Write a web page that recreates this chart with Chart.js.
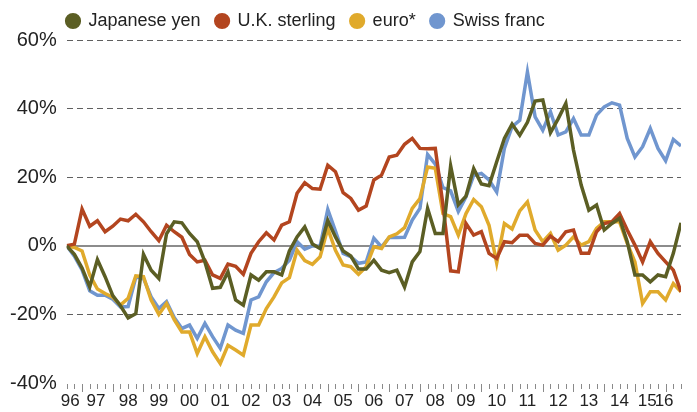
<!DOCTYPE html>
<html>
<head>
<meta charset="utf-8">
<script src="https://cdn.jsdelivr.net/npm/chart.js@4.4.0/dist/chart.umd.min.js"></script>
<style>
  html, body { margin: 0; padding: 0; background: #fff; }
  #wrap { width: 697px; height: 412px; }
</style>
</head>
<body>
<div id="wrap"><canvas id="fxChart"></canvas></div>
<script>
const FONT = "'Liberation Sans', Arial, sans-serif";

// Quarterly, 1996 Q3 .. 2016 Q3, percent change since the first quarter
const quarters = [];
for (let y = 1996, q = 3; quarters.length < 81; q++) {
    if (q > 4) { q = 1; y++; }
    quarters.push(y + 'Q' + q);
}

const yen = [
    0, -2.5, -6.5, -12, -4, -9, -14.5, -17.5, -21, -19.8,
    -2.5, -7.1, -9.5, 3.5, 7.0, 6.7, 3.6, 1.2, -4.7, -12.4,
    -12.1, -7.6, -15.8, -17.3, -8.5, -10, -7.6, -7.6, -8.5, -1.5,
    2.6, 5.5, 0.5, -0.8, 7.4, 2.6, -1.5, -3, -6.8, -6.8,
    -4.2, -7.1, -7.8, -7.1, -12, -4.7, -1.7, 10.9, 3.6, 3.6,
    23.3, 12, 14.5, 22.5, 18, 17.5, 24.5, 31.3, 35.5, 32.2,
    36, 42.2, 42.5, 33, 37, 41.5, 27.9, 17.7, 10.4, 11.9,
    4.6, 6.5, 8.0, 1.2, -8.5, -8.5, -10.5, -8.5, -9, -2.2,
    6.7
];
const sterling = [
    0, 0.5, 10.7, 5.7, 7.3, 4.1, 5.7, 7.8, 7.3, 9.2,
    7.0, 4.1, 1.5, 6.0, 4.1, 2.5, -2.5, -4.7, -4.2, -8.5,
    -9.5, -5.3, -6.0, -8.3, -2.2, 1.2, 3.8, 1.7, 6.0, 7.0,
    15.3, 18.4, 16.7, 16.5, 23.5, 21.6, 15.5, 13.8, 10.4, 11.6,
    19.2, 20.6, 25.9, 26.4, 29.6, 31.3, 28.4, 28.3, 28.4, 12,
    -7.3, -7.6, 6.5, 3.1, 4.1, -2.2, -3.7, 1.2, 0.9, 3.1,
    3.1, 0.7, 0.2, 2.8, 1.2, 4.1, 4.6, -2.2, -2.2, 4.1,
    6.5, 7.0, 9.4, 4.6, 0.2, -4.7, 1.2, -2.2, -4.7, -7.1,
    -13.4
];
const euro = [
    0, -0.5, -1.5, -8.5, -12.6, -13.9, -15, -17.3, -15.3, -8.8,
    -9.0, -15.8, -20, -16.8, -21.5, -25.1, -25.1, -31.4, -26.5, -30.9,
    -34.3, -29, -30.4, -31.9, -23.1, -23.1, -18.3, -14.9, -10.8, -9.3,
    -1.3, -4.3, -5.4, -3.2, 5.1, -1.3, -5.6, -6.1, -8.3, -6.1,
    -0.3, -0.8, 2.6, 3.5, 5.3, 10.9, 13.8, 23.0, 22.6, 9.4,
    8.5, 3.1, 9.4, 13.5, 11.4, 6, -5, 6.5, 4.9, 10.2,
    12.8, 4.6, 1.2, 3.6, -1.3, 0.2, 2.6, 0.2, 1.2, 5.1,
    7.0, 7.0, 7.0, 0.7, -4.7, -16.8, -13.4, -13.4, -15.8, -11,
    -13.4
];
const swiss = [
    0, -3, -7, -13.1, -14.4, -14.4, -15.6, -17.8, -17.7, -9.2,
    -9.5, -14.9, -18.3, -16.3, -20.9, -24.1, -23.1, -27, -22.6, -26.5,
    -29.9, -23.1, -24.6, -25.5, -15.8, -14.9, -10.5, -7.8, -6.6, -4.2,
    1.2, -1, 0, -0.1, 10.6, 4.3, -2.2, -3.2, -5.1, -4.7,
    2.2, -0.3, 2.4, 2.4, 2.5, 7.5, 10.9, 26.6, 23.8, 17,
    16, 10, 14.3, 20.5, 21.1, 19.2, 15.7, 28.4, 34.7, 36.6,
    50.7, 37.6, 33.7, 39.1, 32.3, 33.2, 37.1, 32.3, 32.3, 38.1,
    40.5, 41.7, 41, 31.3, 25.9, 28.9, 34.2, 28.4, 24.8, 31,
    29.1
];

// year labels sit mid-year on the quarter index (ends nudged inward)
const yearLabels = ['96', '97', '98', '99', '00', '01', '02', '03', '04', '05', '06',
    '07', '08', '09', '10', '11', '12', '13', '14', '15', '16'];
const yearLabelPos = [0.45, 3.8, 8, 12, 16, 20, 24, 28, 32, 36, 40,
    44, 48, 52, 56, 60, 64, 68, 72, 75.6, 77.8];
const yTicks = [-40, -20, 0, 20, 40, 60];

const toPoints = arr => arr.map((v, i) => ({ x: i, y: v }));

// small quarterly tick marks under the plot, longer ones at Q1
const quarterTicks = {
    id: 'quarterTicks',
    afterLayout(chart) {
        // legend sits over the plot, not against the canvas edge
        chart.legend.left = 51.5;
        chart.legend.top = -3;
    },
    afterDraw(chart) {
        const xs = chart.scales.x;
        const ctx = chart.ctx;
        const top = chart.chartArea.bottom;
        ctx.save();
        ctx.strokeStyle = '#8a8a8a';
        ctx.lineWidth = 1;
        quarters.forEach(function(q, i) {
            const px = Math.round(xs.getPixelForValue(i)) + 0.5;
            const len = q.endsWith('Q1') ? 8 : 5;
            ctx.beginPath();
            ctx.moveTo(px, top + 1);
            ctx.lineTo(px, top + 1 + len);
            ctx.stroke();
        });
        ctx.restore();
    }
};

const series = [
    { label: 'Japanese yen', data: yen, color: '#5b5e24' },
    { label: 'U.K. sterling', data: sterling, color: '#b3451f' },
    { label: 'euro*', data: euro, color: '#e0aa2c' },
    { label: 'Swiss franc', data: swiss, color: '#7096cf' }
];

new Chart(document.getElementById('fxChart'), {
    type: 'line',
    data: {
        datasets: series.map(s => ({
            label: s.label,
            data: toPoints(s.data),
            borderColor: s.color,
            backgroundColor: s.color,
            borderWidth: 3.5,
            pointRadius: 0,
            tension: 0,
            fill: false
        }))
    },
    options: {
        responsive: true,
        maintainAspectRatio: false,
        animation: false,
        layout: {
            padding: { left: 0, right: 16, top: 0, bottom: 0 }
        },
        plugins: {
            tooltip: { enabled: false },
            legend: {
                position: 'top',
                align: 'start',
                maxHeight: 40,
                labels: {
                    usePointStyle: true,
                    pointStyle: 'circle',
                    boxWidth: 13,
                    boxHeight: 9,
                    padding: 15,
                    color: '#222',
                    font: { family: FONT, size: 18 }
                }
            }
        },
        scales: {
            x: {
                type: 'linear',
                min: 0,
                max: quarters.length - 1,
                grid: { display: false, drawTicks: false },
                border: { display: false },
                afterFit: function(scale) { scale.height = 29; },
                afterBuildTicks: function(scale) {
                    scale.ticks = yearLabelPos.map(v => ({ value: v }));
                },
                ticks: {
                    autoSkip: false,
                    maxRotation: 0,
                    minRotation: 0,
                    padding: 8,
                    color: '#222',
                    font: { family: FONT, size: 17 },
                    callback: function(value, index) { return yearLabels[index]; }
                }
            },
            y: {
                min: -40,
                max: 60,
                afterFit: function(scale) { scale.width = 66.7; },
                afterBuildTicks: function(scale) {
                    scale.ticks = yTicks.map(v => ({ value: v }));
                },
                grid: {
                    drawTicks: false,
                    color: ctx => ctx.tick.value === 0 ? '#8c8c8c'
                        : (ctx.tick.value === -40 ? 'rgba(0,0,0,0)' : '#606060'),
                    lineWidth: ctx => ctx.tick.value === 0 ? 2 : 1
                },
                border: {
                    display: false,
                    dash: ctx => ctx.tick && ctx.tick.value === 0 ? [] : [6, 4]
                },
                ticks: {
                    padding: 10,
                    color: '#222',
                    font: { family: FONT, size: 20 },
                    callback: v => v + '%'
                }
            }
        }
    },
    plugins: [quarterTicks]
});
</script>
</body>
</html>
